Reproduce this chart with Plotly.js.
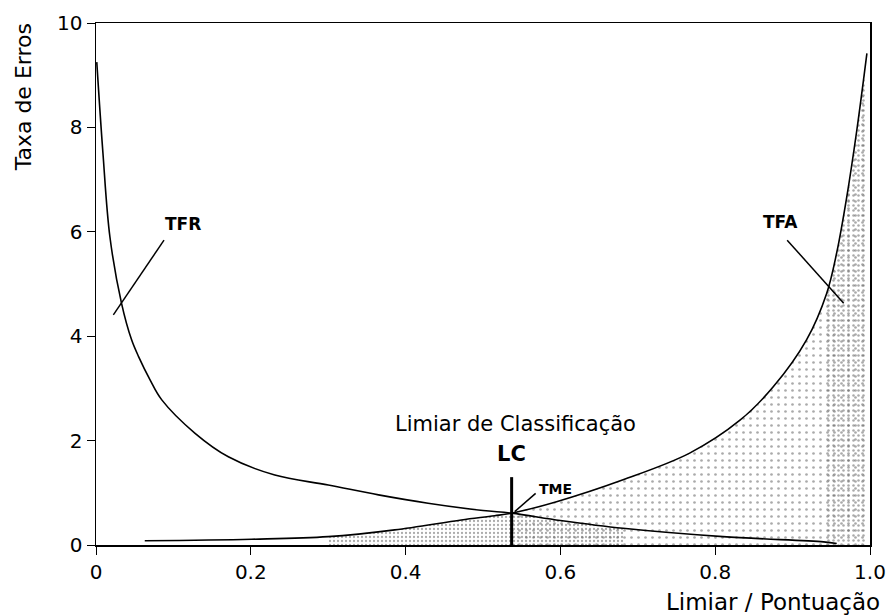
<!DOCTYPE html>
<html>
<head>
<meta charset="utf-8">
<script src="https://cdn.plot.ly/plotly-3.0.1.min.js"></script>
<style>html,body{margin:0;padding:0;background:#fff;}#chart{width:889px;height:616px;}</style>
</head>
<body>
<div id="chart"></div>
<script>
// Taxa de Falsa Rejeição (TFR) – decreasing curve
const tfrX = [0.001, 0.009, 0.018, 0.033, 0.046, 0.055, 0.07, 0.085, 0.128, 0.171, 0.231, 0.30, 0.365, 0.429, 0.50, 0.537, 0.60, 0.681, 0.81, 0.94, 0.957];
const tfrY = [9.25, 7.5, 5.9, 4.63, 3.93, 3.61, 3.16, 2.78, 2.14, 1.69, 1.34, 1.15, 0.96, 0.80, 0.66, 0.61, 0.47, 0.32, 0.16, 0.06, 0.03];
// Taxa de Falsa Aceitação (TFA) – increasing curve
const tfaX = [0.063, 0.201, 0.30, 0.386, 0.472, 0.515, 0.537, 0.595, 0.681, 0.767, 0.832, 0.875, 0.918, 0.944, 0.957, 0.97, 0.983, 0.996];
const tfaY = [0.08, 0.11, 0.16, 0.29, 0.48, 0.56, 0.61, 0.83, 1.25, 1.76, 2.39, 3.03, 3.93, 4.82, 5.6, 6.67, 7.95, 9.42];
// Limiar de Classificação
const lcX = 0.537;
const lcTop = 1.3;
// tick labels
const xTickVals = [0, 0.2, 0.4, 0.6, 0.8, 1.0];
const xTickText = ['0', '0.2', '0.4', '0.6', '0.8', '1.0'];
const yTickVals = [0, 2, 4, 6, 8, 10];
const yTickText = ['0', '2', '4', '6', '8', '10'];

const FONT = 'DejaVu Sans, sans-serif';
const BOLD = 'DejaVu Sans, Liberation Sans, sans-serif';

// stipple regions built from the curves
const sparseX = [], sparseY = [];
tfaX.forEach((x, i) => { if (x >= 0.53) { sparseX.push(x); sparseY.push(tfaY[i]); } });
const denseX = [], denseY = [];
tfaX.forEach((x, i) => { if (x >= 0.3 && x <= lcX) { denseX.push(x); denseY.push(tfaY[i]); } });
tfrX.forEach((x, i) => { if (x > lcX && x <= 0.7) { denseX.push(x); denseY.push(tfrY[i]); } });
const edgeX = [], edgeY = [];
tfaX.forEach((x, i) => { if (x >= 0.94) { edgeX.push(x); edgeY.push(tfaY[i]); } });

function stipple(xs, ys, size, sol) {
  return {
    x: xs, y: ys, type: 'scatter', mode: 'none', fill: 'tozeroy',
    fillcolor: 'rgba(0,0,0,0)', line: {shape: 'spline', smoothing: 1},
    fillpattern: {shape: '.', size: size, solidity: sol, fgcolor: '#555', bgcolor: 'rgba(0,0,0,0)', fillmode: 'overlay'},
    hoverinfo: 'skip', showlegend: false
  };
}

const traces = [
  stipple(sparseX, sparseY, 7, 0.12),
  stipple(denseX, denseY, 4, 0.25),
  stipple(edgeX, edgeY, 5, 0.2),
  {x: tfrX, y: tfrY, type: 'scatter', mode: 'lines', name: 'TFR',
   line: {color: '#000', width: 1.6, shape: 'spline', smoothing: 1}, showlegend: false},
  {x: tfaX, y: tfaY, type: 'scatter', mode: 'lines', name: 'TFA',
   line: {color: '#000', width: 1.6, shape: 'spline', smoothing: 1}, showlegend: false},
  {x: [lcX, lcX], y: [0, lcTop], type: 'scatter', mode: 'lines', name: 'LC',
   line: {color: '#000', width: 3}, showlegend: false}
];

const axisCommon = {
  showline: true, mirror: true, linecolor: '#000', linewidth: 1.5,
  ticks: 'outside', ticklen: 8, tickwidth: 1, tickcolor: '#000',
  showgrid: false, zeroline: false,
  tickfont: {family: FONT, size: 20, color: '#000'}
};

const layout = {
  width: 889, height: 616,
  margin: {l: 96, r: 19, t: 23, b: 71},
  paper_bgcolor: '#fff', plot_bgcolor: '#fff',
  showlegend: false,
  xaxis: Object.assign({}, axisCommon, {range: [0, 1], tickvals: xTickVals, ticktext: xTickText}),
  yaxis: Object.assign({}, axisCommon, {range: [0, 10], tickvals: yTickVals, ticktext: yTickText}),
  shapes: [
    {type: 'line', xref: 'x', yref: 'y', x0: 0.0879, y0: 5.84, x1: 0.0224, y1: 4.41, line: {color: '#000', width: 1.5}},
    {type: 'line', xref: 'x', yref: 'y', x0: 0.893, y0: 5.84, x1: 0.966, y1: 4.63, line: {color: '#000', width: 1.5}},
    {type: 'line', xref: 'x', yref: 'y', x0: 0.568, y0: 0.99, x1: 0.541, y1: 0.64, line: {color: '#000', width: 1.5}}
  ],
  annotations: [
    {text: 'Taxa de Erros', xref: 'paper', yref: 'paper', x: -0.094, y: 0.858, textangle: -90,
     showarrow: false, xanchor: 'center', yanchor: 'middle', font: {family: FONT, size: 22, color: '#000'}},
    {text: 'Limiar / Pontuação', xref: 'paper', yref: 'paper', x: 1.0155, y: -0.109,
     showarrow: false, xanchor: 'right', yanchor: 'middle', font: {family: FONT, size: 23, color: '#000'}},
    {text: 'Limiar de Classificação', xref: 'x', yref: 'y', x: 0.542, y: 2.32,
     showarrow: false, font: {family: FONT, size: 21, color: '#000'}},
    {text: '<b>LC</b>', xref: 'x', yref: 'y', x: 0.537, y: 1.74,
     showarrow: false, font: {family: BOLD, size: 21, color: '#000'}},
    {text: '<b>TME</b>', xref: 'x', yref: 'y', x: 0.594, y: 1.08,
     showarrow: false, font: {family: BOLD, size: 14, color: '#000'}},
    {text: '<b>TFR</b>', xref: 'x', yref: 'y', x: 0.112, y: 6.15,
     showarrow: false, font: {family: BOLD, size: 17, color: '#000'}},
    {text: '<b>TFA</b>', xref: 'x', yref: 'y', x: 0.884, y: 6.19,
     showarrow: false, font: {family: BOLD, size: 17, color: '#000'}}
  ]
};

Plotly.newPlot('chart', traces, layout, {displayModeBar: false, staticPlot: true});
</script>
</body>
</html>
